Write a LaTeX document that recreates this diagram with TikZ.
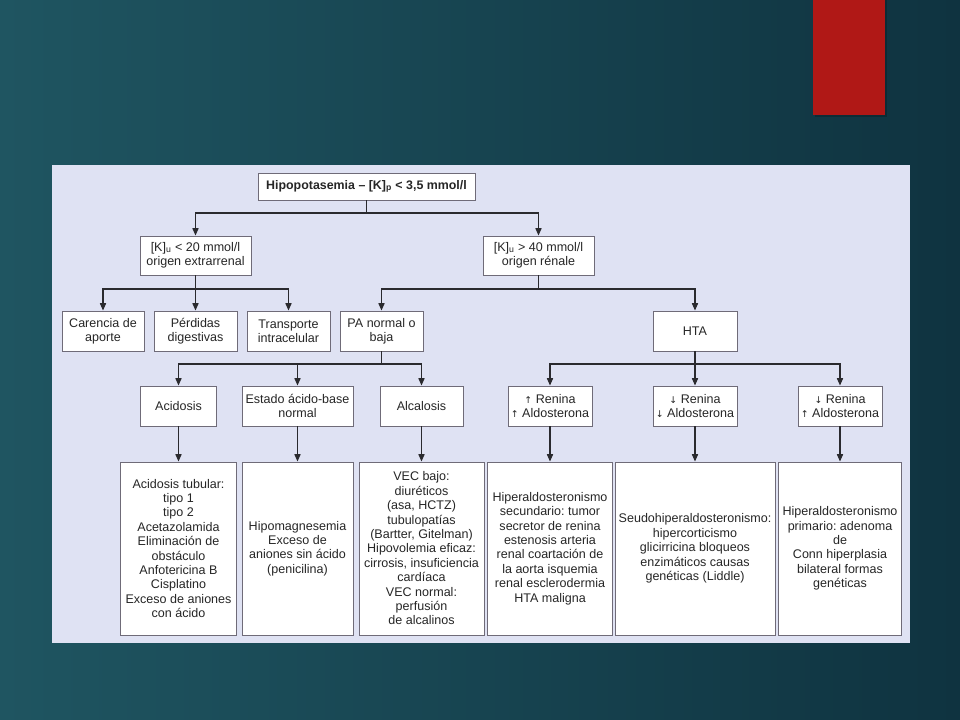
\documentclass[tikz,border=0pt]{standalone}
\usepackage{fontspec}
\setmainfont{Liberation Sans}
\newfontfamily\arrfont{DejaVu Sans}
\usetikzlibrary{arrows.meta}
\definecolor{bgl}{HTML}{1F5561}
\definecolor{bgr}{HTML}{0F3340}
\definecolor{redbar}{HTML}{B01816}
\definecolor{panel}{HTML}{DFE2F3}
\definecolor{boxline}{HTML}{6F6B78}
\definecolor{conn}{HTML}{2A2A2E}
\definecolor{txt}{HTML}{262626}
\newcommand\arrowup{{\arrfont\fontsize{7}{7}\selectfont ↑}}
\newcommand\arrowdn{{\arrfont\fontsize{7}{7}\selectfont ↓}}
\frenchspacing
\tikzset{
  box/.style={draw=boxline, line width=0.7pt, fill=white, align=center, inner sep=1pt, text=txt, font=\fontsize{9.4}{10.8}\selectfont},
  sz/.style 2 args={minimum width={0.75pt*#1}, minimum height={0.75pt*#2}},
  arr/.style={draw=conn, line width=0.85pt, -{Triangle[length=5.5pt,width=4.6pt]}},
  ln/.style={draw=conn, line width=0.85pt},
}
\begin{document}
\begin{tikzpicture}[x=0.75pt,y=-0.75pt]
\useasboundingbox (0,0) rectangle (960,720);
% background
\shade[left color=bgl, right color=bgr] (0,0) rectangle (960,720);
\fill[black, opacity=0.2] (815,0) rectangle (887,117);
\fill[redbar] (813,0) rectangle (885,115);
\fill[panel] (52,165) rectangle (910,643);

% level 1-2
\node[box,sz={217}{27},font=\bfseries\fontsize{9.3}{11}\selectfont] (top) at (366.5,186.5) {Hipopotasemia – [K]\textsubscript{p} < 3,5 mmol/l};
\node[box,sz={111}{39}] (k20) at (195.5,255.5) {[K]\textsubscript{u} < 20 mmol/l\\origen extrarrenal};
\node[box,sz={111}{39}] (k40) at (538.5,255.5) {[K]\textsubscript{u} > 40 mmol/l\\origen rénale};

% level 3
\node[box,sz={82}{40}] (car) at (103,331) {Carencia de\\aporte};
\node[box,sz={83}{40}] (per) at (195.5,331) {Pérdidas\\digestivas};
\node[box,sz={83}{40}] (tra) at (288.5,331) {Transporte\\intracelular};
\node[box,sz={83}{40}] (pa) at (381.5,331) {PA normal o\\baja};
\node[box,sz={84}{40}] (hta) at (695,331) {HTA};

% level 4
\node[box,sz={76}{40}] (acid) at (178.5,406) {Acidosis};
\node[box,sz={111}{40}] (est) at (297.5,406) {Estado ácido-base\\normal};
\node[box,sz={83}{40}] (alc) at (421.5,406) {Alcalosis};
\node[box,sz={84}{40}] (r1) at (550,406) {\arrowup\ Renina\\\arrowup\ Aldosterona};
\node[box,sz={84}{40}] (r2) at (695,406) {\arrowdn\ Renina\\\arrowdn\ Aldosterona};
\node[box,sz={84}{40}] (r3) at (840,406) {\arrowdn\ Renina\\\arrowup\ Aldosterona};

% level 5
\node[box,sz={116}{173}] (d1) at (178.5,548.5) {Acidosis tubular:\\tipo 1\\tipo 2\\Acetazolamida\\Eliminación de\\obstáculo\\Anfotericina B\\Cisplatino\\Exceso de aniones\\con ácido};
\node[box,sz={111}{173}] (d2) at (297.5,548.5) {Hipomagnesemia\\Exceso de\\aniones sin ácido\\(penicilina)};
\node[box,sz={125}{173}] (d3) at (421.5,548.5) {VEC bajo:\\diuréticos\\(asa, HCTZ)\\tubulopatías\\(Bartter, Gitelman)\\Hipovolemia eficaz:\\cirrosis, insuficiencia\\cardíaca\\VEC normal:\\perfusión\\de alcalinos};
\node[box,sz={125}{173}] (d4) at (550,548.5) {Hiperaldosteronismo\\secundario: tumor\\secretor de renina\\estenosis arteria\\renal coartación de\\la aorta isquemia\\renal esclerodermia\\HTA maligna};
\node[box,sz={160}{173}] (d5) at (695,548.5) {Seudohiperaldosteronismo:\\hipercorticismo\\glicirricina bloqueos\\enzimáticos causas\\genéticas (Liddle)};
\node[box,sz={123}{173}] (d6) at (840,548.5) {Hiperaldosteronismo\\primario: adenoma\\de\\Conn hiperplasia\\bilateral formas\\genéticas};

% bus levels
\coordinate (b1) at (0,213);
\coordinate (b2) at (0,289);
\coordinate (b3) at (0,364);

\draw[ln] (top.south) -- (top.south |- b1);
\draw[arr] (top.south |- b1) -| (k20.north);
\draw[arr] (top.south |- b1) -| (k40.north);

\draw[arr] (k20.south) -- (per.north);
\draw[arr] (k20.south |- b2) -| (car.north);
\draw[arr] (k20.south |- b2) -| (tra.north);

\draw[ln] (k40.south) -- (k40.south |- b2);
\draw[arr] (k40.south |- b2) -| (pa.north);
\draw[arr] (k40.south |- b2) -| (hta.north);

\draw[ln] (pa.south) -- (pa.south |- b3);
\draw[arr] (pa.south |- b3) -| (acid.north);
\draw[arr] (pa.south |- b3) -| (est.north);
\draw[arr] (pa.south |- b3) -| (alc.north);

\draw[arr] (hta.south) -- (r2.north);
\draw[arr] (hta.south |- b3) -| (r1.north);
\draw[arr] (hta.south |- b3) -| (r3.north);

\draw[arr] (acid.south) -- (d1.north);
\draw[arr] (est.south) -- (d2.north);
\draw[arr] (alc.south) -- (d3.north);
\draw[arr] (r1.south) -- (d4.north);
\draw[arr] (r2.south) -- (d5.north);
\draw[arr] (r3.south) -- (d6.north);
\end{tikzpicture}
\end{document}
